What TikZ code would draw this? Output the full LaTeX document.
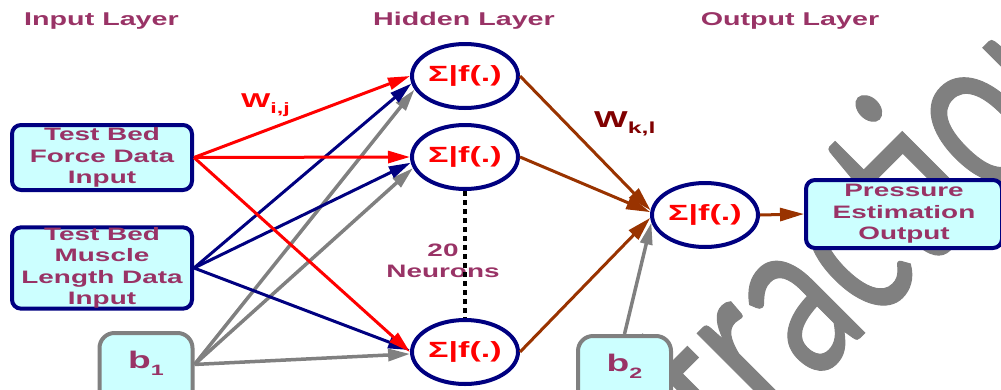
\documentclass[tikz,border=0pt]{standalone}
\usepackage{fontspec}
\usetikzlibrary{shapes.geometric,arrows.meta}
\newfontfamily\wf{Liberation Sans}[FakeStretch=1.55]
\newfontfamily\wmf{Carlito}[FakeBold=0.5]
\definecolor{purp}{RGB}{153,51,102}
\definecolor{navyc}{RGB}{0,0,128}
\definecolor{cyanf}{RGB}{204,255,255}
\definecolor{brownc}{RGB}{153,51,0}
\definecolor{dred}{RGB}{128,0,0}
\definecolor{grayc}{RGB}{128,128,128}
\begin{document}
\begin{tikzpicture}[x=1pt,y=1pt,
  title/.style={text=purp,font=\wf\bfseries\fontsize{18.5}{20}\selectfont,inner sep=0,anchor=base},
  inbox/.style={draw=navyc,line width=4pt,fill=cyanf,rounded corners=9pt,text=purp,align=center,
    font=\wf\bfseries\fontsize{18}{21.5}\selectfont,inner sep=0},
  biasbox/.style={draw=grayc,line width=4pt,fill=cyanf,rounded corners=15pt,text=purp,
    font=\wf\bfseries\fontsize{24}{24}\selectfont,inner sep=0,anchor=north,minimum width=93pt,
    text height=35pt,text depth=45pt},
  neuron/.style={ellipse,draw=navyc,line width=4pt,fill=white,minimum width=106pt,minimum height=64pt,
    text=red,font=\wf\bfseries\fontsize{22}{22}\selectfont,inner sep=0},
  redarr/.style={draw=red,line width=3pt,-{Triangle[length=22pt,width=12pt]}},
  bluearr/.style={draw=navyc,line width=3pt,-{Triangle[length=22pt,width=12pt]}},
  grayarr/.style={draw=grayc,line width=3.5pt,-{Triangle[length=22pt,width=12pt]}},
  brownarr/.style={draw=brownc,line width=3pt,-{Triangle[length=24pt,width=13pt]}},
  wlabel/.style={font=\wf\bfseries\fontsize{22}{22}\selectfont,inner sep=0,anchor=base west},
  wmark/.style={text=grayc,font=\wmf\fontsize{247}{247}\selectfont,inner sep=0,anchor=base west,
    rotate=45,xscale=0.705}
]
\useasboundingbox (0,0) rectangle (1001,-389);
\begin{scope}
  \clip (0,0) rectangle (1001,-389);
  \node[wmark] (wm) at (731.5,-466.1) {traction};
\end{scope}

% titles
\node[title] (tin) at (101.5,-25) {Input Layer};
\node[title] (thid) at (464,-25) {Hidden Layer};
\node[title] (tout) at (790,-25) {Output Layer};

% input boxes
\node[inbox,minimum width=180pt,minimum height=65pt] (force) at (102,-157.5) {Test Bed\\Force Data\\Input};
\node[inbox,minimum width=180pt,minimum height=80pt] (muscle) at (102,-268) {Test Bed\\Muscle\\Length Data\\Input};
\node[biasbox] (b1) at (146,-331) {b\raisebox{-7pt}{\fontsize{15}{15}\selectfont 1}};
\node[biasbox] (b2) at (624.5,-334) {b\raisebox{-7pt}{\fontsize{15}{15}\selectfont 2}};

% neurons
\node[neuron] (h1) at (465,-76) {Σ|f(.)};
\node[neuron] (h2) at (465,-157) {Σ|f(.)};
\node[neuron] (h3) at (465,-352) {Σ|f(.)};
\node[neuron] (out) at (705,-215) {Σ|f(.)};

% output box
\node[inbox,minimum width=196pt,minimum height=68pt] (press) at (904,-214) {Pressure\\Estimation\\Output};

% neurons label and dotted line
\node[text=purp,font=\wf\bfseries\fontsize{18}{20.5}\selectfont,align=center,inner sep=0] (nlab) at (443,-261) {20\\Neurons};
\draw[line width=4.5pt,dash pattern=on 4.5pt off 4.5pt] (h2.south) -- (h3.north);

% input -> hidden
\draw[grayarr] (b1.10) -- (h1.195);
\draw[grayarr] (b1.10) -- (h2.192);
\draw[grayarr] (b1.10) -- (h3.182);
\draw[bluearr] (muscle.east) -- (h1.188);
\draw[bluearr] (muscle.east) -- (h2.186);
\draw[bluearr] (muscle.east) -- (h3.178);
\draw[redarr] (force.east) -- (h1.180);
\draw[redarr] (force.east) -- (h2.180);
\draw[redarr] (force.east) -- (h3.180);

% hidden -> output
\draw[brownarr] (h1.east) -- (out.175);
\draw[brownarr] (h2.east) -- (out.177);
\draw[brownarr] (h3.east) -- (out.183);
\draw[grayarr] (b2.north) -- (out.188);
\draw[brownarr] (out.east) -- (press.west);

% weight labels
\node[wlabel,text=red,font=\wf\bfseries\fontsize{20}{20}\selectfont] (wij) at (241,-107)
  {W\raisebox{-6pt}{\fontsize{15}{15}\selectfont i,j}};
\node[wlabel,text=dred,font=\wf\bfseries\fontsize{23}{23}\selectfont] (wkl) at (594,-127)
  {W\raisebox{-6pt}{\fontsize{16}{16}\selectfont k,l}};
\end{tikzpicture}
\end{document}
